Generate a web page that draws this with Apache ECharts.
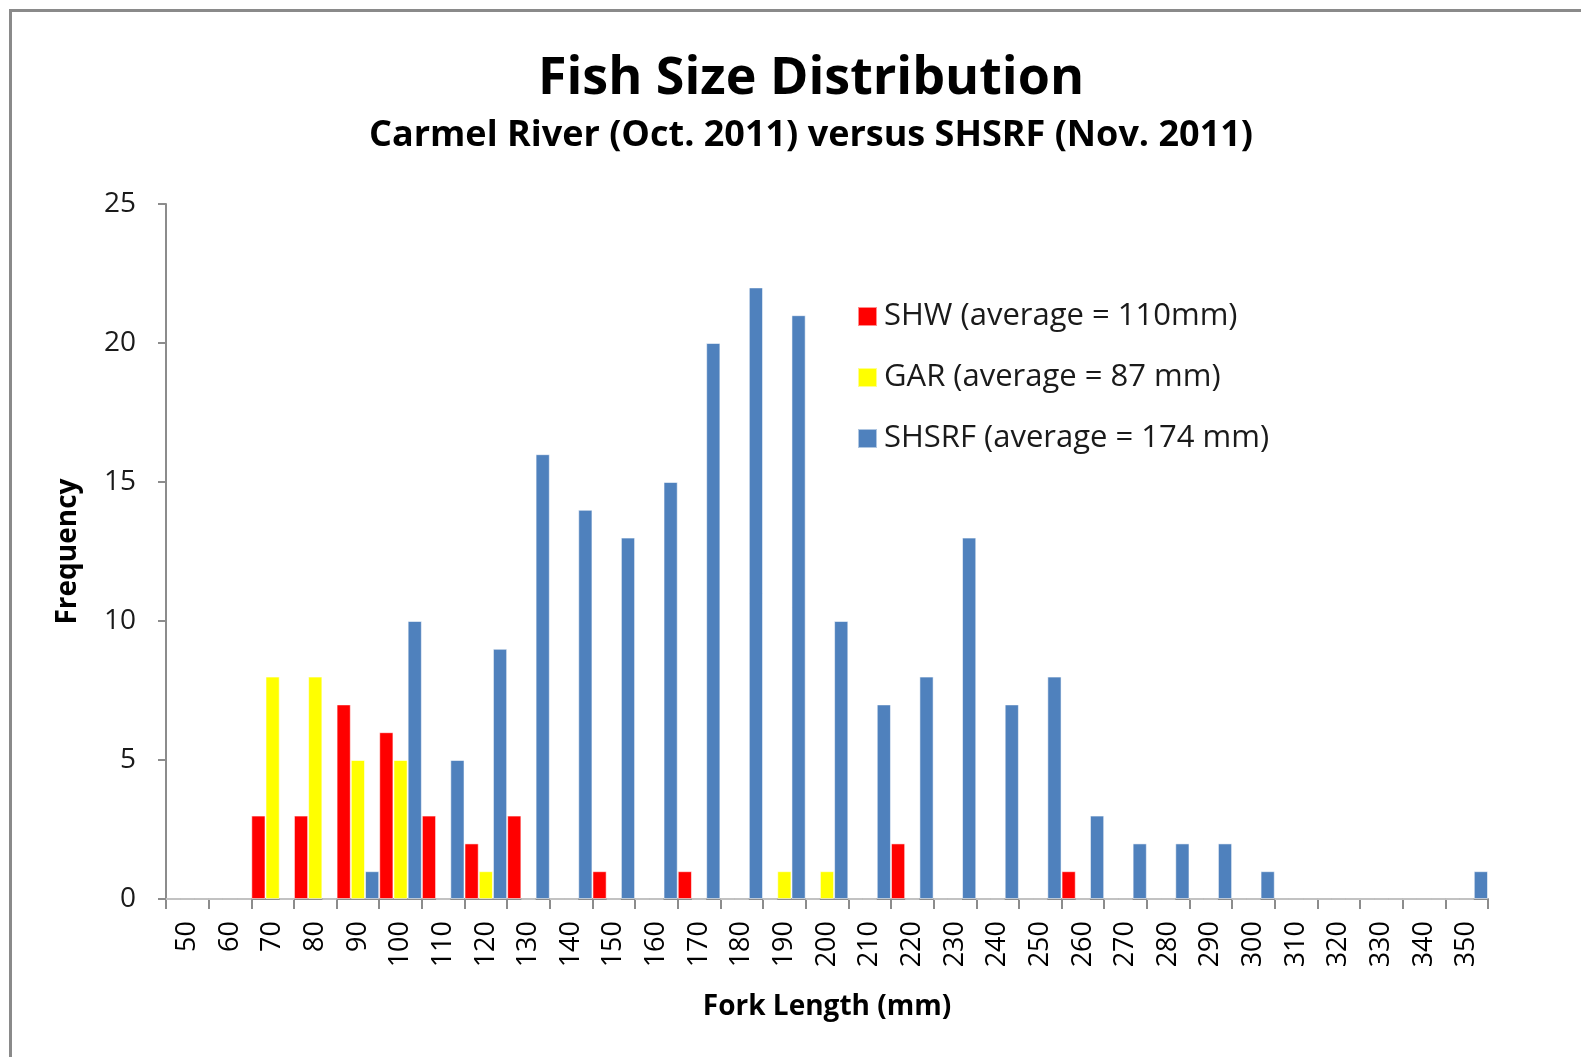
<!DOCTYPE html>
<html>
<head>
<meta charset="utf-8">
<title>Fish Size Distribution</title>
<script src="https://cdn.jsdelivr.net/npm/echarts@6/dist/echarts.min.js"></script>
<style>
  html, body { margin: 0; padding: 0; background: #fff; }
  #frame {
    position: absolute; left: 9px; top: 9px; width: 1700px; height: 1200px;
    border-top: 3px solid #8a8a8a; border-left: 3px solid #8a8a8a; box-sizing: border-box;
  }
  #chart { position: absolute; left: 0; top: 0; width: 1581px; height: 1057px; }
</style>
</head>
<body>
<div id="frame"></div>
<div id="chart"></div>
<script>
// Fork length bins (mm)
const lengths = ['50','60','70','80','90','100','110','120','130','140','150','160','170','180','190','200',
  '210','220','230','240','250','260','270','280','290','300','310','320','330','340','350'];

// Counts per bin
const shw   = [0,0,3,3,7,6,3,2,3,0,1,0,1,0,0,0,0,2,0,0,0,1,0,0,0,0,0,0,0,0,0];
const gar   = [0,0,8,8,5,5,0,1,0,0,0,0,0,0,1,1,0,0,0,0,0,0,0,0,0,0,0,0,0,0,0];
const shsrf = [0,0,0,0,1,10,5,9,16,14,13,15,20,22,21,10,7,8,13,7,8,3,2,2,2,1,0,0,0,0,1];

const seriesNames = ['SHW (average = 110mm)', 'GAR (average = 87 mm)', 'SHSRF (average = 174 mm)'];
const colors = ['#FF0000', '#FFFF00', '#4F81BD'];

const font = '"Open Sans", Lato, "Liberation Sans", sans-serif';
const axisGrey = '#8c8c8c';

const chart = echarts.init(document.getElementById('chart'), null, { renderer: 'canvas' });

function barSeries(name, data, color) {
  return {
    name: name,
    type: 'bar',
    data: data,
    barGap: '0%',
    barCategoryGap: '0%',
    itemStyle: { color: color, borderColor: 'rgba(255,255,255,0.55)', borderWidth: 1 },
    emphasis: { disabled: true }
  };
}

chart.setOption({
  animation: false,
  backgroundColor: 'transparent',
  color: colors,
  title: {
    text: 'Fish Size Distribution',
    subtext: 'Carmel River (Oct. 2011) versus SHSRF (Nov. 2011)',
    left: 806, top: 48, textAlign: 'center',
    itemGap: 13,
    textStyle: { fontFamily: font, fontWeight: 'bold', fontSize: 52, color: '#000' },
    subtextStyle: { fontFamily: font, fontWeight: 'bold', fontSize: 36, color: '#000' }
  },
  legend: {
    orient: 'vertical',
    left: 852, top: 296,
    itemWidth: 19, itemHeight: 19, itemGap: 30,
    icon: 'rect',
    textStyle: { fontFamily: font, fontSize: 31, lineHeight: 30, color: '#1a1a1a', padding: [0, 0, 0, 2] },
    data: seriesNames
  },
  grid: { left: 166, right: 93, top: 204, bottom: 158, containLabel: false },
  xAxis: {
    type: 'category',
    data: lengths,
    name: 'Fork Length (mm)',
    nameLocation: 'middle',
    nameGap: 94,
    nameTextStyle: { fontFamily: font, fontWeight: 'bold', fontSize: 28, color: '#000' },
    axisLine: { lineStyle: { color: axisGrey, width: 2 } },
    axisTick: { show: true, length: 10, lineStyle: { color: axisGrey, width: 2 } },
    axisLabel: { rotate: 90, interval: 0, margin: 22, fontFamily: font, fontSize: 27, color: '#000' },
    splitLine: { show: false }
  },
  yAxis: {
    type: 'value',
    min: 0, max: 25, interval: 5,
    name: 'Frequency',
    nameLocation: 'middle',
    nameGap: 84,
    nameRotate: 90,
    nameTextStyle: { fontFamily: font, fontWeight: 'bold', fontSize: 28, color: '#000' },
    axisLine: { show: true, lineStyle: { color: axisGrey, width: 2 } },
    axisTick: { show: true, length: 8, lineStyle: { color: axisGrey, width: 2 } },
    axisLabel: { margin: 30, fontFamily: font, fontSize: 28, color: '#1a1a1a' },
    splitLine: { show: false }
  },
  series: [
    barSeries(seriesNames[0], shw, colors[0]),
    barSeries(seriesNames[1], gar, colors[1]),
    barSeries(seriesNames[2], shsrf, colors[2])
  ]
});
</script>
</body>
</html>
